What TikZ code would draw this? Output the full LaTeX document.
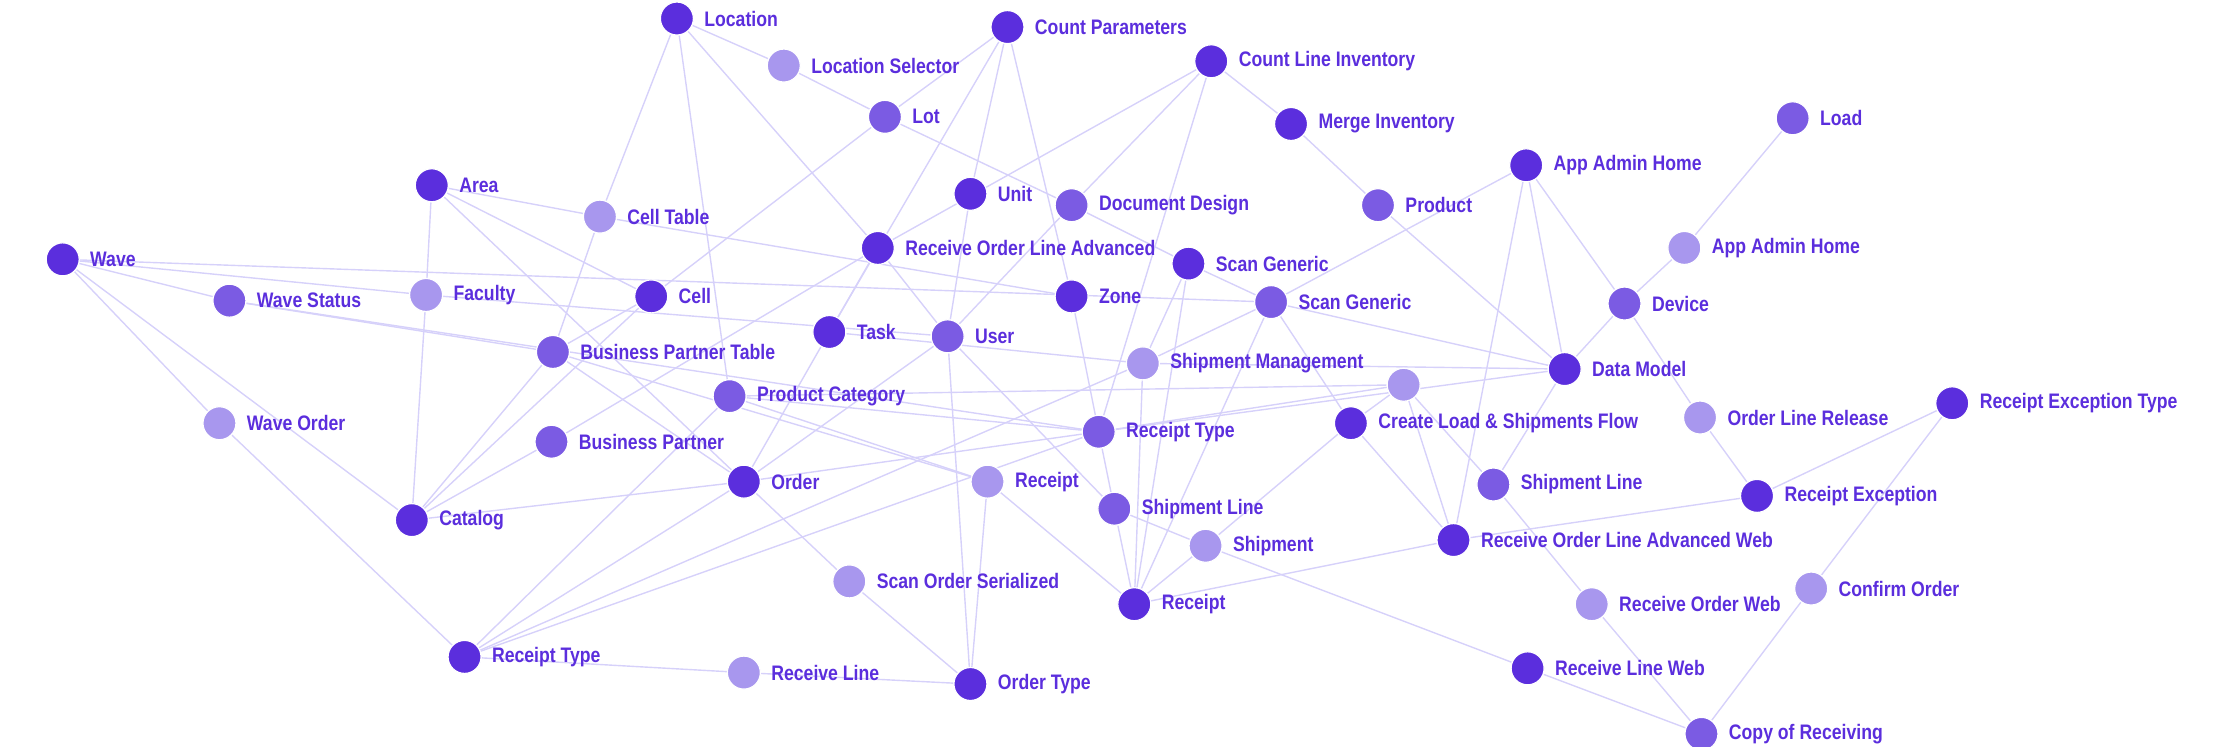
\documentclass[tikz,border=0pt]{standalone}
\usepackage{fontspec}
\setmainfont{Liberation Sans}[FakeStretch=0.84]
\definecolor{cA}{HTML}{5B2EDD}
\definecolor{cB}{HTML}{7B5BE3}
\definecolor{cC}{HTML}{A897EE}
\definecolor{edge}{HTML}{D6D1FA}
\pgfdeclarelayer{bg}\pgfsetlayers{bg,main}
\tikzset{
 nd/.style={circle,minimum size=16.5pt,inner sep=0pt,draw=white,line width=0.6pt},
 dk/.style={nd,fill=cA}, md/.style={nd,fill=cB}, lt/.style={nd,fill=cC},
 lb/.style={right,font=\bfseries\fontsize{10.5}{12}\selectfont,text=cA,inner sep=2pt,xshift=3pt},
 ed/.style={draw=edge,line width=0.7pt}
}
\begin{document}
\begin{tikzpicture}[x=0.7125pt,y=-0.7125pt]
\useasboundingbox (0,0) rectangle (1560,524);
\def\N#1#2#3#4{\node[#2] (#1) at (#3) {};}
\N{loc}{dk}{475,13}{}
\N{locsel}{lt}{550,46}{}
\N{cp}{dk}{707,19}{}
\N{cli}{dk}{850,43}{}
\N{lot}{md}{621,82}{}
\N{merge}{dk}{906,87}{}
\N{load}{md}{1258,83}{}
\N{aah}{dk}{1071,116}{}
\N{area}{dk}{303,130}{}
\N{ct}{lt}{421,152}{}
\N{unit}{dk}{681,136}{}
\N{dd}{md}{752,144}{}
\N{prod}{md}{967,144}{}
\N{aah2}{lt}{1182,174}{}
\N{wave}{dk}{44,182}{}
\N{rola}{dk}{616,174}{}
\N{sg1}{dk}{834,185}{}
\N{ws}{md}{161,211}{}
\N{fac}{lt}{299,207}{}
\N{cell}{dk}{457,208}{}
\N{zone}{dk}{752,208}{}
\N{sg2}{md}{892,212}{}
\N{dev}{md}{1140,213}{}
\N{task}{dk}{582,233}{}
\N{user}{md}{665,236}{}
\N{bpt}{md}{388,247}{}
\N{sm}{lt}{802,255}{}
\N{dm}{dk}{1098,259}{}
\N{unl}{lt}{985,270}{}
\N{pc}{md}{512,278}{}
\N{clsf}{dk}{948,297}{}
\N{olr}{lt}{1193,293}{}
\N{ret}{dk}{1370,283}{}
\N{wo}{lt}{154,297}{}
\N{rt1}{md}{771,303}{}
\N{bp}{md}{387,310}{}
\N{order}{dk}{522,338}{}
\N{rc1}{lt}{693,338}{}
\N{sl1}{md}{1048,340}{}
\N{rex}{dk}{1233,348}{}
\N{cat}{dk}{289,365}{}
\N{sl2}{md}{782,357}{}
\N{rolaw}{dk}{1020,379}{}
\N{ship}{lt}{846,383}{}
\N{sos}{lt}{596,408}{}
\N{co}{lt}{1271,413}{}
\N{rc2}{dk}{796,424}{}
\N{row}{lt}{1117,424}{}
\N{rt2}{dk}{326,461}{}
\N{rl}{lt}{522,472}{}
\N{rlw}{dk}{1072,469}{}
\N{ot}{dk}{681,480}{}
\N{cor}{md}{1194,515}{}
\begin{pgfonlayer}{bg}
\foreach \a/\b in {loc/locsel,locsel/lot,loc/ct,loc/pc,loc/rola,cp/lot,cp/unit,cp/zone,cp/task,
 lot/cell,lot/dd,dd/sg1,cli/rola,cli/dd,cli/merge,cli/rt1,merge/prod,prod/dm,aah/sg2,
 aah/rolaw,aah/dm,aah/dev,load/aah2,aah2/dev,dev/dm,dev/olr,olr/rex,rex/ret,rex/rolaw,ret/co,
 co/cor,row/cor,rlw/cor,sl1/row,ship/rlw,dm/sl1,sg2/dm,sm/dm,rt1/unl,rt1/dm,pc/unl,
 unl/clsf,unl/rolaw,unl/sl1,clsf/rolaw,clsf/ship,sg2/clsf,sg1/sg2,sg1/sm,sg1/rc2,sg2/sm,sg2/rc2,
 zone/rt1,area/ct,area/fac,area/order,area/cell,ct/bpt,ct/zone,cell/bpt,cat/cell,cat/bpt,cat/bp,cat/fac,
 cat/order,cat/wave,wave/wo,wo/rt2,wave/ws,wave/fac,wave/sg2,fac/user,ws/bpt,ws/rt1,
 rt2/rl,rt2/pc,rt2/order,rt2/sm,rt2/rt1,order/task,order/user,order/sos,order/rt1,bpt/order,
 sos/ot,rl/ot,rc1/ot,user/ot,rc1/rc2,bpt/rc1,sl2/rc2,sl2/rt1,rc2/ship,rc2/rolaw,rc2/sm,
 ship/sl2,user/sl2,task/sm,rola/task,rola/user,rola/bp,dd/user,unit/user,pc/rc1,pc/rt1}
 {\draw[ed] (\a) -- (\b);}
\end{pgfonlayer}
\foreach \n/\t in {loc/Location,locsel/Location Selector,cp/Count Parameters,cli/Count Line Inventory,
 lot/Lot,merge/Merge Inventory,load/Load,aah/App Admin Home,area/Area,ct/Cell Table,unit/Unit,
 dd/Document Design,prod/Product,aah2/App Admin Home,wave/Wave,rola/Receive Order Line Advanced,
 sg1/Scan Generic,ws/Wave Status,fac/Faculty,cell/Cell,zone/Zone,sg2/Scan Generic,dev/Device,
 task/Task,user/User,bpt/Business Partner Table,sm/Shipment Management,dm/Data Model,
 pc/Product Category,clsf/Create Load \& Shipments Flow,olr/Order Line Release,
 ret/Receipt Exception Type,wo/Wave Order,rt1/Receipt Type,bp/Business Partner,order/Order,
 rc1/Receipt,sl1/Shipment Line,rex/Receipt Exception,cat/Catalog,sl2/Shipment Line,
 rolaw/Receive Order Line Advanced Web,ship/Shipment,sos/Scan Order Serialized,co/Confirm Order,
 rc2/Receipt,row/Receive Order Web,rt2/Receipt Type,rl/Receive Line,rlw/Receive Line Web,
 ot/Order Type,cor/Copy of Receiving}
 {\node[lb] (l-\n) at (\n.east) {\t};}
\end{tikzpicture}
\end{document}
